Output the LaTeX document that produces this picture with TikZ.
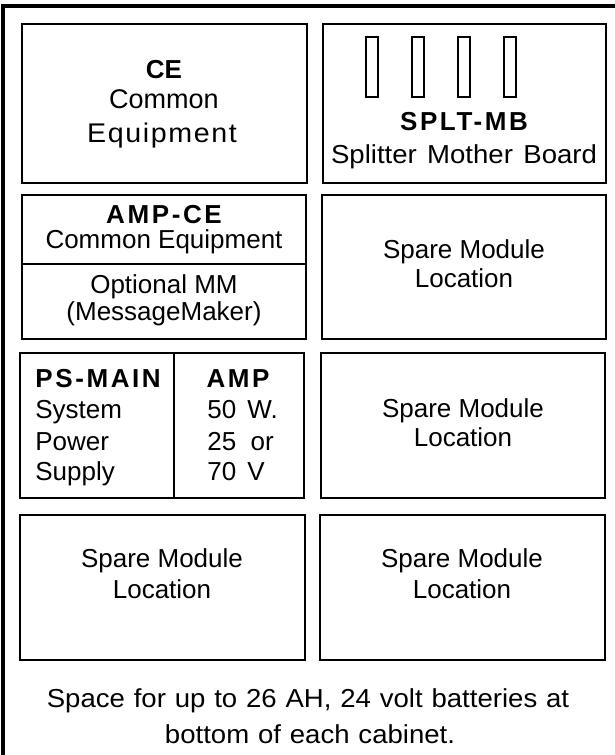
\documentclass[tikz,border=0pt]{standalone}
\usepackage{fontspec}
\setmainfont{Liberation Sans}
\newfontfamily\widefont{Liberation Sans}[FakeStretch=1.06]
\usepackage{tikz}

\newcommand\wideb[1]{{\bfseries\addfontfeature{LetterSpace=10}#1}}
\newcommand\widew[1]{{\spaceskip=0.43em\relax #1}}
\newcommand\widetext{\fontsize{13}{15}\widefont\spaceskip=0.34em\relax}

\begin{document}
\begin{tikzpicture}[x=0.5pt,y=-0.5pt,
  every node/.style={font=\fontsize{13}{15}\selectfont,inner sep=0pt,anchor=base},
  wide/.style={font=\widetext},
  box/.style={line width=0.7pt},
  slot/.style={line width=1pt}]
\useasboundingbox (0,0) rectangle (615,755);
% cabinet frame
\draw[line width=1.6pt] (3,755)--(3,6)--(615,6);
% module locations
\draw[box] (22,24) rectangle (307,183);
\draw[box] (323,24) rectangle (606,183);
\draw[box] (22,195) rectangle (306,339);
\draw[box] (22,264)--(306,264);
\draw[box] (322,195) rectangle (606,339);
\draw[box] (20,353) rectangle (304,498);
\draw[box] (174,353)--(174,498);
\draw[box] (321,353) rectangle (605,498);
\draw[box] (20,515) rectangle (305,660);
\draw[box] (320,515) rectangle (605,660);
% card slots
\foreach \sx in {371.5,417.5,464,509.5}
  \draw[slot] (\sx-6,37) rectangle (\sx+6,97);
% CE
\node (ce) at (164,78) {\bfseries CE};
\node (ce2) at (164,108) {\fontsize{13.5}{15}\selectfont Common};
\node (ce3) at (162,142) {\fontsize{13.5}{15}\widefont\addfontfeature{LetterSpace=6}Equipment};
% SPLT-MB
\node (splt) at (464,130) {\wideb{SPLT-MB}};
\node[wide] (splt2) at (464,163) {Splitter\hspace{0.4em}Mother\hspace{0.4em}Board};
% AMP-CE
\node (ampce) at (164,223) {\wideb{AMP-CE}};
\node (ampce2) at (164,248) {Common Equipment};
\node (mm) at (164,293) {Optional MM};
\node (mm2) at (164,320) {(MessageMaker)};
% PS-MAIN and AMP
\node[anchor=base west] (ps) at (35,387) {\wideb{PS-MAIN}};
\node[anchor=base west] (ps2) at (35,418) {System};
\node[anchor=base west] (ps3) at (35,450) {Power};
\node[anchor=base west] (ps4) at (35,480) {Supply};
\node (amp) at (238,387) {\wideb{AMP}};
\node[anchor=base west] (amp2) at (207,418) {\widew{50 W.}};
\node[anchor=base west] (amp3) at (207,450) {25\ \ or};
\node[anchor=base west] (amp4) at (207,480) {\widew{70 V}};
% spare locations
\node (sa) at (464,258) {Spare Module};
\node (sa2) at (464,287) {Location};
\node (sb) at (463,417) {Spare Module};
\node (sb2) at (463,446) {Location};
\node (sc) at (162,567) {Spare Module};
\node (sc2) at (162,598) {Location};
\node (sd) at (462,567) {Spare Module};
\node (sd2) at (462,598) {Location};
% batteries
\node[wide] (bat) at (308,707) {Space for up to 26 AH, 24 volt batteries at};
\node[wide] (bat2) at (310,743) {bottom of each cabinet.};
\end{tikzpicture}
\end{document}
